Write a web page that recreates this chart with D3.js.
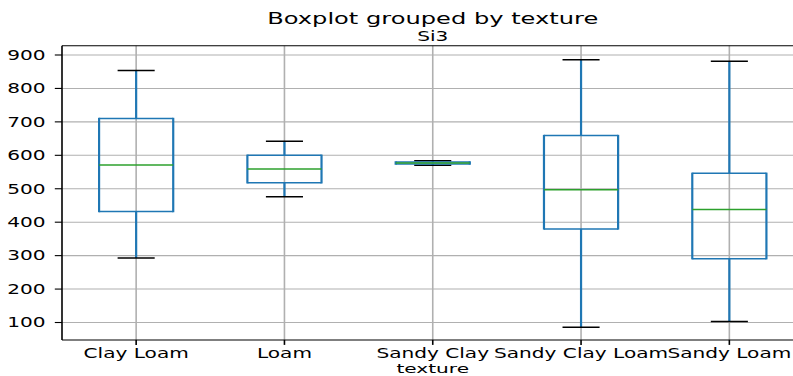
<!DOCTYPE html>
<html><head><meta charset="utf-8">
<script src="https://cdn.jsdelivr.net/npm/d3@7"></script>
<style>html,body{margin:0;padding:0;background:#fff;}svg{display:block;}</style>
</head><body>
<svg id="c" width="793" height="376"></svg>
<script>
const categories = ["Clay Loam", "Loam", "Sandy Clay", "Sandy Clay Loam", "Sandy Loam"];
const whiskerLow  = [293, 476, 570, 86, 103];
const q1          = [432, 518, 574, 380, 291];
const median      = [571, 559, 577, 497, 438];
const q3          = [710, 600, 580, 659, 546];
const whiskerHigh = [854, 642, 584, 886, 881];
const yTicks = [100, 200, 300, 400, 500, 600, 700, 800, 900];
const title = "Boxplot grouped by texture";
const subtitle = "Si3";
const xLabel = "texture";

const SX = 1.49;
const svg = d3.select("#c");
const L = 62, R = 803.5, T = 45.7, B = 340;
const x = d3.scaleLinear().domain([0.5, 5.5]).range([L, R]);
const y = d3.scaleLinear().domain([47.7, 927.8]).range([B, T]);
const step = x(2) - x(1);

function txt(g, s, px, py, size, anchor, dy, sx) {
  return g.append("text")
    .attr("transform", `translate(${px},${py}) scale(${sx || SX},1)`)
    .attr("text-anchor", anchor)
    .attr("dy", dy || 0)
    .attr("font-family", "DejaVu Sans")
    .attr("font-size", size)
    .attr("fill", "#000")
    .text(s);
}

const grid = svg.append("g");
yTicks.forEach(t => {
  grid.append("line").attr("x1", L).attr("x2", R).attr("y1", y(t)).attr("y2", y(t))
    .attr("stroke", "#b0b0b0").attr("stroke-width", 1.1);
});
categories.forEach((c, i) => {
  grid.append("line").attr("x1", x(i + 1)).attr("x2", x(i + 1)).attr("y1", T).attr("y2", B)
    .attr("stroke", "#b0b0b0").attr("stroke-width", 1.6);
});

const blue = "#1f77b4";
const boxes = svg.append("g");
categories.forEach((c, i) => {
  const cx = x(i + 1);
  const hw = step * 0.25, cw = step * 0.125;
  boxes.append("line").attr("x1", cx).attr("x2", cx).attr("y1", y(q3[i])).attr("y2", y(whiskerHigh[i]))
    .attr("stroke", blue).attr("stroke-width", 2.2);
  boxes.append("line").attr("x1", cx).attr("x2", cx).attr("y1", y(q1[i])).attr("y2", y(whiskerLow[i]))
    .attr("stroke", blue).attr("stroke-width", 2.2);
  [whiskerHigh[i], whiskerLow[i]].forEach(v => {
    boxes.append("line").attr("x1", cx - cw).attr("x2", cx + cw).attr("y1", y(v)).attr("y2", y(v))
      .attr("stroke", "#000").attr("stroke-width", 1.5);
  });
  const yt = y(q3[i]), yb = y(q1[i]);
  boxes.append("line").attr("x1", cx - hw).attr("x2", cx + hw).attr("y1", yt).attr("y2", yt).attr("stroke", blue).attr("stroke-width", 1.5);
  boxes.append("line").attr("x1", cx - hw).attr("x2", cx + hw).attr("y1", yb).attr("y2", yb).attr("stroke", blue).attr("stroke-width", 1.5);
  boxes.append("line").attr("x1", cx - hw).attr("x2", cx - hw).attr("y1", yt - 0.75).attr("y2", yb + 0.75).attr("stroke", blue).attr("stroke-width", 2.2);
  boxes.append("line").attr("x1", cx + hw).attr("x2", cx + hw).attr("y1", yt - 0.75).attr("y2", yb + 0.75).attr("stroke", blue).attr("stroke-width", 2.2);
  boxes.append("line").attr("x1", cx - hw).attr("x2", cx + hw).attr("y1", y(median[i])).attr("y2", y(median[i]))
    .attr("stroke", "#2ca02c").attr("stroke-width", 1.5);
});

const sp = svg.append("g");
sp.append("line").attr("x1", L).attr("x2", L).attr("y1", T).attr("y2", B).attr("stroke", "#000").attr("stroke-width", 1.6);
sp.append("line").attr("x1", L).attr("x2", R).attr("y1", T).attr("y2", T).attr("stroke", "#000").attr("stroke-width", 1.1);
sp.append("line").attr("x1", L).attr("x2", R).attr("y1", B).attr("y2", B).attr("stroke", "#000").attr("stroke-width", 1.1);
sp.append("line").attr("x1", R).attr("x2", R).attr("y1", T).attr("y2", B).attr("stroke", "#000").attr("stroke-width", 1.6);

const tk = svg.append("g");
yTicks.forEach(t => {
  tk.append("line").attr("x1", L - 7.2).attr("x2", L).attr("y1", y(t)).attr("y2", y(t)).attr("stroke", "#000").attr("stroke-width", 1.1);
  txt(tk, String(t), L - 16.5, y(t), 13.5, "end", "0.36em");
});
categories.forEach((c, i) => {
  tk.append("line").attr("x1", x(i + 1)).attr("x2", x(i + 1)).attr("y1", B).attr("y2", B + 4.9).attr("stroke", "#000").attr("stroke-width", 1.6);
  txt(tk, c, x(i + 1), 358.2, 13.5, "middle");
});

const mid = (L + R) / 2;
txt(svg, title, mid, 24.2, 16.2, "middle");
txt(svg, subtitle, mid, 41, 13.5, "middle");
txt(svg, xLabel, mid, 372.9, 12.4, "middle", 0, SX * 13.5 / 12.4);
</script>
</body></html>
